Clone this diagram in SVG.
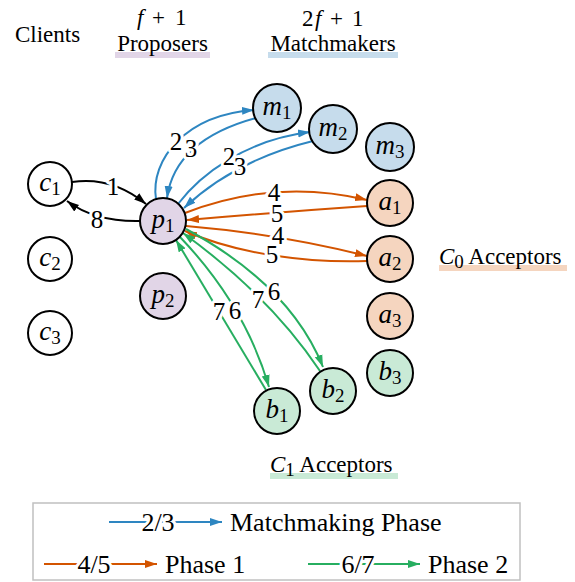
<svg xmlns="http://www.w3.org/2000/svg" width="575" height="582" viewBox="0 0 575 582" font-family="'Liberation Serif', 'DejaVu Serif', serif">
<style>
text{font-family:'Liberation Serif','DejaVu Serif',serif;fill:#000}
.node circle{stroke:#000;stroke-width:2}
.cl circle{fill:#fff}
.pr circle{fill:#e1d5e7}
.mm circle{fill:#c6dcec}
.ac0 circle{fill:#f5d5bf}
.ac1 circle{fill:#c9ead6}
.nl{font-size:27px;text-anchor:middle}
.v{font-style:italic}
.s{font-size:19px}
.hdr{font-size:23px}
.e{fill:none;stroke-width:2}
.bk{stroke:#000}
.bl{stroke:#2e86c1}
.or{stroke:#d35400}
.gr{stroke:#27ae60}
.lbl{font-size:25px;text-anchor:middle;stroke:#fff;stroke-width:6;paint-order:stroke;stroke-linejoin:round}
.leg{font-size:26px}
</style>
<defs>
<marker id="ak" markerUnits="userSpaceOnUse" markerWidth="13" markerHeight="10" refX="12" refY="5" orient="auto"><path d="M0,1 L12,5 L0,9 z" fill="#000"/></marker>
<marker id="ab" markerUnits="userSpaceOnUse" markerWidth="13" markerHeight="10" refX="12" refY="5" orient="auto"><path d="M0,1 L12,5 L0,9 z" fill="#2e86c1"/></marker>
<marker id="ao" markerUnits="userSpaceOnUse" markerWidth="13" markerHeight="10" refX="12" refY="5" orient="auto"><path d="M0,1 L12,5 L0,9 z" fill="#d35400"/></marker>
<marker id="ag" markerUnits="userSpaceOnUse" markerWidth="13" markerHeight="10" refX="12" refY="5" orient="auto"><path d="M0,1 L12,5 L0,9 z" fill="#27ae60"/></marker>
</defs>

<g id="headers">
<text class="hdr" x="15" y="42">Clients</text>
<text class="hdr" y="25"><tspan class="v" x="137">f</tspan><tspan x="152">+</tspan><tspan x="175">1</tspan></text>
<rect x="115" y="52" width="95" height="6" fill="#e1d5e7"/>
<text class="hdr" x="162.5" y="51" text-anchor="middle">Proposers</text>
<text class="hdr" y="26"><tspan x="302">2</tspan><tspan class="v" x="315">f</tspan><tspan x="330">+</tspan><tspan x="352">1</tspan></text>
<rect x="268" y="52" width="130" height="6" fill="#c6dcec"/>
<text class="hdr" x="333" y="51" text-anchor="middle">Matchmakers</text>
<rect x="439" y="265" width="128" height="6" fill="#f5d5bf"/>
<text class="hdr" x="439" y="264"><tspan class="v">C</tspan><tspan class="s" dy="4">0</tspan><tspan dy="-4"> Acceptors</tspan></text>
<rect x="270" y="473" width="128" height="6" fill="#c9ead6"/>
<text class="hdr" x="270" y="472"><tspan class="v">C</tspan><tspan class="s" dy="4">1</tspan><tspan dy="-4"> Acceptors</tspan></text>
</g>

<g id="connectors">
<path class="e bk" d="M72,182 Q112,176 146,204" marker-end="url(#ak)"/>
<path class="e bk" d="M140,221 Q95,222 67,201" marker-end="url(#ak)"/>
<path class="e bl" d="M156,199 C150,160 185,115 254,110" marker-end="url(#ab)"/>
<path class="e bl" d="M256,118 Q175,140 167,198" marker-end="url(#ab)"/>
<path class="e bl" d="M178,204 C200,175 245,140 310,132" marker-end="url(#ab)"/>
<path class="e bl" d="M313,141 Q235,160 184,208" marker-end="url(#ab)"/>
<path class="e or" d="M185,213 Q275,178 367,200" marker-end="url(#ao)"/>
<path class="e or" d="M367,206 Q280,212 187,220" marker-end="url(#ao)"/>
<path class="e or" d="M186,226 Q280,234 367,256" marker-end="url(#ao)"/>
<path class="e or" d="M367,261 C310,263 240,255 185,231" marker-end="url(#ao)"/>
<path class="e gr" d="M266,390 L176,240" marker-end="url(#ag)"/>
<path class="e gr" d="M180,237 Q245,305 269,387" marker-end="url(#ag)"/>
<path class="e gr" d="M320,371 Q270,296 183,233" marker-end="url(#ag)"/>
<path class="e gr" d="M186,229 Q290,285 323,367" marker-end="url(#ag)"/>
<text class="lbl" x="113" y="195">1</text>
<text class="lbl" x="97" y="228">8</text>
<text class="lbl" x="176" y="150">2</text>
<text class="lbl" x="191" y="157">3</text>
<text class="lbl" x="229" y="165">2</text>
<text class="lbl" x="240" y="175">3</text>
<text class="lbl" x="274" y="201">4</text>
<text class="lbl" x="277" y="222">5</text>
<text class="lbl" x="278" y="244">4</text>
<text class="lbl" x="272" y="263">5</text>
<text class="lbl" x="219" y="320">7</text>
<text class="lbl" x="235" y="319">6</text>
<text class="lbl" x="258" y="308">7</text>
<text class="lbl" x="274" y="300">6</text>
</g>

<g id="c1" class="node cl"><circle cx="50" cy="184" r="22"/><text class="nl" x="50" y="191"><tspan class="v">c</tspan><tspan class="s" dy="4">1</tspan></text></g>
<g id="c2" class="node cl"><circle cx="50" cy="259" r="22"/><text class="nl" x="50" y="266"><tspan class="v">c</tspan><tspan class="s" dy="4">2</tspan></text></g>
<g id="c3" class="node cl"><circle cx="50" cy="333" r="22"/><text class="nl" x="50" y="340"><tspan class="v">c</tspan><tspan class="s" dy="4">3</tspan></text></g>
<g id="p1" class="node pr"><circle cx="163" cy="221" r="23"/><text class="nl" x="163" y="228"><tspan class="v">p</tspan><tspan class="s" dy="4">1</tspan></text></g>
<g id="p2" class="node pr"><circle cx="163" cy="296" r="23"/><text class="nl" x="163" y="303"><tspan class="v">p</tspan><tspan class="s" dy="4">2</tspan></text></g>
<g id="m1" class="node mm"><circle cx="277" cy="108" r="24"/><text class="nl" x="277" y="115"><tspan class="v">m</tspan><tspan class="s" dy="4">1</tspan></text></g>
<g id="m2" class="node mm"><circle cx="333" cy="129" r="24"/><text class="nl" x="333" y="136"><tspan class="v">m</tspan><tspan class="s" dy="4">2</tspan></text></g>
<g id="m3" class="node mm"><circle cx="390" cy="147" r="24"/><text class="nl" x="390" y="154"><tspan class="v">m</tspan><tspan class="s" dy="4">3</tspan></text></g>
<g id="a1" class="node ac0"><circle cx="390" cy="203" r="23"/><text class="nl" x="390" y="210"><tspan class="v">a</tspan><tspan class="s" dy="4">1</tspan></text></g>
<g id="a2" class="node ac0"><circle cx="390" cy="259" r="23"/><text class="nl" x="390" y="266"><tspan class="v">a</tspan><tspan class="s" dy="4">2</tspan></text></g>
<g id="a3" class="node ac0"><circle cx="390" cy="316" r="23"/><text class="nl" x="390" y="323"><tspan class="v">a</tspan><tspan class="s" dy="4">3</tspan></text></g>
<g id="b3" class="node ac1"><circle cx="390" cy="373" r="23"/><text class="nl" x="390" y="380"><tspan class="v">b</tspan><tspan class="s" dy="4">3</tspan></text></g>
<g id="b1" class="node ac1"><circle cx="277" cy="411" r="23"/><text class="nl" x="277" y="418"><tspan class="v">b</tspan><tspan class="s" dy="4">1</tspan></text></g>
<g id="b2" class="node ac1"><circle cx="333" cy="391" r="23"/><text class="nl" x="333" y="398"><tspan class="v">b</tspan><tspan class="s" dy="4">2</tspan></text></g>

<g id="legend">
<rect x="33" y="503" width="487" height="77" fill="#fff" stroke="#c0c0c0" stroke-width="1.5"/>
<path class="e bl" d="M109,522 L222,522" marker-end="url(#ab)"/>
<text class="lbl leg" x="158" y="531">2/3</text>
<text class="leg" x="230" y="531">Matchmaking Phase</text>
<path class="e or" d="M44,564 L157,564" marker-end="url(#ao)"/>
<text class="lbl leg" x="94" y="573">4/5</text>
<text class="leg" x="165" y="573">Phase 1</text>
<path class="e gr" d="M308,564 L420,564" marker-end="url(#ag)"/>
<text class="lbl leg" x="358" y="573">6/7</text>
<text class="leg" x="428" y="573">Phase 2</text>
</g>
</svg>
